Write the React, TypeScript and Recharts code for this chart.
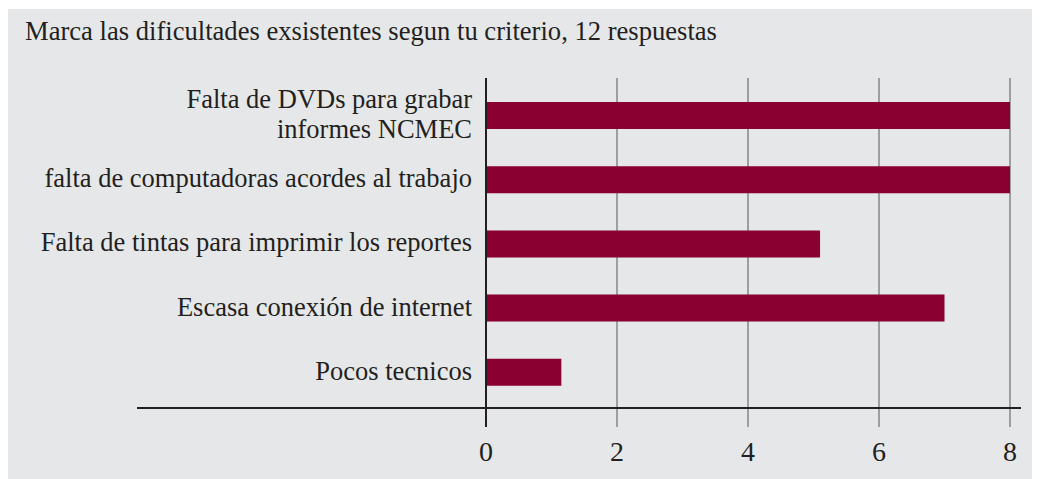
import React from "react";
import { BarChart, Bar, XAxis, YAxis, CartesianGrid } from "recharts";

const title = "Marca las dificultades exsistentes segun tu criterio, 12 respuestas";

// categories top to bottom, "\n" marks a wrapped label
const categories = [
  "Falta de DVDs para grabar\ninformes NCMEC",
  "falta de computadoras acordes al trabajo",
  "Falta de tintas para imprimir los reportes",
  "Escasa conexión de internet",
  "Pocos tecnicos",
];
const counts = [8, 8, 5.1, 7, 1.15];
const xTicks = [0, 2, 4, 6, 8];

const chartData = categories.map((name, i) => ({ name, value: counts[i] }));

const INK = "#231f20";
const FONT = "'Liberation Serif', 'Times New Roman', serif";

function CategoryTick(props: any) {
  const { x, y, payload } = props;
  const lines = String(payload.value).split("\n");
  const fs = 26.5;
  const lh = 29.4;
  const first = y + fs * 0.3 - ((lines.length - 1) * lh) / 2;
  return (
    <text x={x} textAnchor="end" fontSize={fs} fontFamily={FONT} fill={INK}>
      {lines.map((l, i) => (
        <tspan key={i} x={x} y={first + i * lh}>
          {l}
        </tspan>
      ))}
    </text>
  );
}

function ValueTick(props: any) {
  const { x, y, payload } = props;
  return (
    <g>
      <line
        x1={x}
        x2={x}
        y1={y - 33}
        y2={y - 14}
        stroke={payload.value === 0 ? INK : "#8c8c8c"}
        strokeWidth={payload.value === 0 ? 2 : 1.6}
      />
      <text x={x} y={y} dy="0.71em" textAnchor="middle" fontSize={28} fontFamily={FONT} fill={INK}>
        {payload.value}
      </text>
    </g>
  );
}

export default function App() {
  return (
    <div
      style={{
        position: "relative",
        width: 1034,
        height: 470,
        marginLeft: -2,
        marginTop: 1,
        background: "#e6e7e8",
        fontFamily: FONT,
      }}
    >
      <div
        style={{
          position: "absolute",
          left: 19,
          top: 9.4,
          fontSize: 26.6,
          lineHeight: "26.6px",
          color: INK,
          whiteSpace: "nowrap",
        }}
      >
        {title}
      </div>
      <BarChart
        layout="vertical"
        width={1034}
        height={470}
        data={chartData}
        margin={{ top: 69, right: 30, bottom: 11, left: 0 }}
      >
        <CartesianGrid horizontal={false} stroke="#8c8c8c" strokeWidth={1.6} />
        <XAxis
          type="number"
          domain={[0, 8]}
          ticks={xTicks}
          axisLine={false}
          tickLine={false}
          tickSize={19}
          tickMargin={14}
          height={60}
          tick={<ValueTick />}
        />
        <YAxis
          type="category"
          dataKey="name"
          width={480}
          padding={{ top: 5, bottom: 4 }}
          axisLine={{ stroke: INK, strokeWidth: 2 }}
          tickLine={false}
          tickSize={0}
          tickMargin={14}
          tick={<CategoryTick />}
          interval={0}
        />
        <Bar dataKey="value" fill="#8a0030" barSize={27} isAnimationActive={false} />
      </BarChart>
      <div
        style={{
          position: "absolute",
          left: 131,
          top: 398,
          width: 884,
          height: 2,
          background: INK,
        }}
      />
    </div>
  );
}
